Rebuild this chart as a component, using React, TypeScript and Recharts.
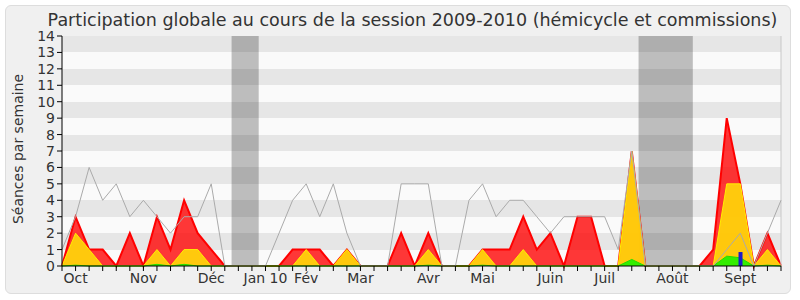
import React from 'react';
import {
  ComposedChart,
  Area,
  Line,
  Bar,
  XAxis,
  YAxis,
  CartesianGrid,
  ReferenceArea,
  ReferenceLine,
} from 'recharts';

// One value per week, from the first week of Oct 2009 to the end of Sept 2010
const presences = [
  0, 3, 1, 1, 0, 2, 0, 3, 1, 4, 2, 1, 0, 0, 0, 0, 0, 1, 1, 1, 0, 1, 0, 0, 0, 2, 0,
  2, 0, 0, 0, 1, 1, 1, 3, 1, 2, 0, 3, 3, 0, 0, 7, 0, 0, 0, 0, 0, 1, 9, 5, 0, 2, 0,
];
const commissions = [
  0, 2, 1, 0, 0, 0, 0, 1, 0, 1, 1, 0, 0, 0, 0, 0, 0, 0, 1, 0, 0, 1, 0, 0, 0, 0, 0,
  1, 0, 0, 0, 1, 0, 0, 1, 0, 0, 0, 0, 0, 0, 0, 7, 0, 0, 0, 0, 0, 0, 5, 5, 0, 1, 0,
];
const interventions = [
  0, 0.05, 0, 0, 0, 0, 0, 0.1, 0, 0.1, 0, 0, 0, 0, 0, 0, 0, 0, 0, 0, 0, 0, 0, 0, 0, 0, 0,
  0.05, 0, 0, 0, 0.05, 0, 0, 0, 0, 0, 0, 0, 0, 0, 0, 0.4, 0, 0, 0, 0, 0, 0, 0.6, 0.5, 0, 0.05, 0,
];
const mediane = [
  1, 3, 6, 4, 5, 3, 4, 3, 2, 3, 3, 5, 0, 0, 0, 0, 2, 4, 5, 3, 5, 2, 0, 0, 0, 5, 5,
  5, 0, 0, 4, 5, 3, 4, 4, 3, 2, 3, 3, 3, 3, 1, 7, 0, 0, 0, 0, 0, 0, 1, 2, 0, 2, 4,
];
const questionWeeks = [50];
const questionValues = [0.85];

// Parliamentary breaks (first week, last week)
const vacances = [
  [13, 14],
  [43, 46],
];

const monthWeeks = [1, 6, 11, 15, 18, 22, 27, 31, 36, 40, 45, 50];
const monthNames = ['Oct', 'Nov', 'Déc', 'Jan 10', 'Fév', 'Mar', 'Avr', 'Mai', 'Juin', 'Juil', 'Août', 'Sept'];

const yTicks = [0, 1, 2, 3, 4, 5, 6, 7, 8, 9, 10, 11, 12, 13, 14];

const chartData = presences.map((p, i) => ({
  week: i,
  presences: p,
  commissions: commissions[i],
  interventions: interventions[i],
  mediane: mediane[i],
  questions: questionWeeks.includes(i) ? questionValues[questionWeeks.indexOf(i)] : null,
}));
const weekTicks = chartData.map((d) => d.week);
const lastWeek = weekTicks[weekTicks.length - 1];

const monthLabel = (v: number) => {
  const idx = monthWeeks.indexOf(v);
  return idx >= 0 ? monthNames[idx] : '';
};

const FONT = '"DejaVu Sans", Verdana, sans-serif';

export default function App() {
  return (
    <div
      style={{
        position: 'absolute',
        left: 0,
        top: 0,
        width: 800,
        height: 300,
        background: '#ffffff',
        overflow: 'hidden',
        fontFamily: FONT,
      }}
    >
      {/* rounded frame */}
      <div
        style={{
          position: 'absolute',
          left: 5,
          top: 5,
          width: 786,
          height: 289,
          background: '#f0f0f0',
          border: '1px solid #dddddd',
          borderRadius: 6,
          boxSizing: 'border-box',
        }}
      />
      <div
        style={{
          position: 'absolute',
          left: 25,
          top: 10,
          width: 775,
          textAlign: 'center',
          fontSize: 17.5,
          lineHeight: '20px',
          color: '#333333',
          whiteSpace: 'nowrap',
        }}
      >
        Participation globale au cours de la session 2009-2010 (hémicycle et commissions)
      </div>
      <div style={{ position: 'absolute', left: 0, top: 0 }}>
        <ComposedChart
          width={800}
          height={300}
          data={chartData}
          margin={{ top: 36, right: 19, bottom: 0, left: 0 }}
        >
          <CartesianGrid
            vertical={false}
            stroke="none"
            horizontalFill={['#e6e6e6', '#fafafa']}
          />
          {vacances.map(([a, b]) => (
            <ReferenceArea
              key={a}
              x1={a - 0.5}
              x2={b + 0.5}
              y1={0}
              y2={14}
              fill="#000000"
              fillOpacity={0.245}
              stroke="none"
            />
          ))}
          <ReferenceLine x={lastWeek} stroke="#c8c8c8" strokeWidth={1} />
          <XAxis
            dataKey="week"
            type="number"
            domain={[0, lastWeek]}
            ticks={weekTicks}
            interval={0}
            height={34}
            tickSize={5}
            tickFormatter={monthLabel}
            tick={{ fill: '#333333', fontSize: 14, fontFamily: FONT }}
            axisLine={{ stroke: '#000000' }}
            tickLine={{ stroke: '#000000' }}
          />
          <XAxis
            xAxisId="top"
            orientation="top"
            dataKey="week"
            type="number"
            domain={[0, lastWeek]}
            ticks={weekTicks}
            interval={0}
            height={0}
            tickSize={2}
            tickFormatter={() => ''}
            axisLine={false}
            tickLine={{ stroke: '#000000' }}
          />
          <YAxis
            type="number"
            domain={[0, 14]}
            ticks={yTicks}
            interval={0}
            width={62}
            tickSize={5}
            tick={{ fill: '#333333', fontSize: 14, fontFamily: FONT }}
            axisLine={{ stroke: '#000000' }}
            tickLine={{ stroke: '#000000' }}
            label={{
              content: () => (
                <text
                  x={23}
                  y={149}
                  transform="rotate(-90 23 149)"
                  textAnchor="middle"
                  fill="#333333"
                  fontSize={14}
                  fontFamily={FONT}
                >
                  Séances par semaine
                </text>
              ),
            }}
          />
          <Line
            type="linear"
            dataKey="mediane"
            stroke="#aaaaaa"
            strokeWidth={1}
            dot={false}
            activeDot={false}
            isAnimationActive={false}
          />
          <Area
            type="linear"
            dataKey="presences"
            stroke="#ff0000"
            strokeWidth={2}
            fill="#ff0000"
            fillOpacity={0.78}
            isAnimationActive={false}
          />
          <Area
            type="linear"
            dataKey="commissions"
            stroke="#ffee00"
            strokeWidth={1}
            fill="#ffd40a"
            fillOpacity={0.93}
            isAnimationActive={false}
          />
          <Area
            type="linear"
            dataKey="interventions"
            stroke="#22dd00"
            strokeWidth={1}
            fill="#33ee00"
            fillOpacity={1}
            isAnimationActive={false}
          />
          <Bar dataKey="questions" fill="#1a1acc" barSize={4} isAnimationActive={false} />
        </ComposedChart>
      </div>
    </div>
  );
}
